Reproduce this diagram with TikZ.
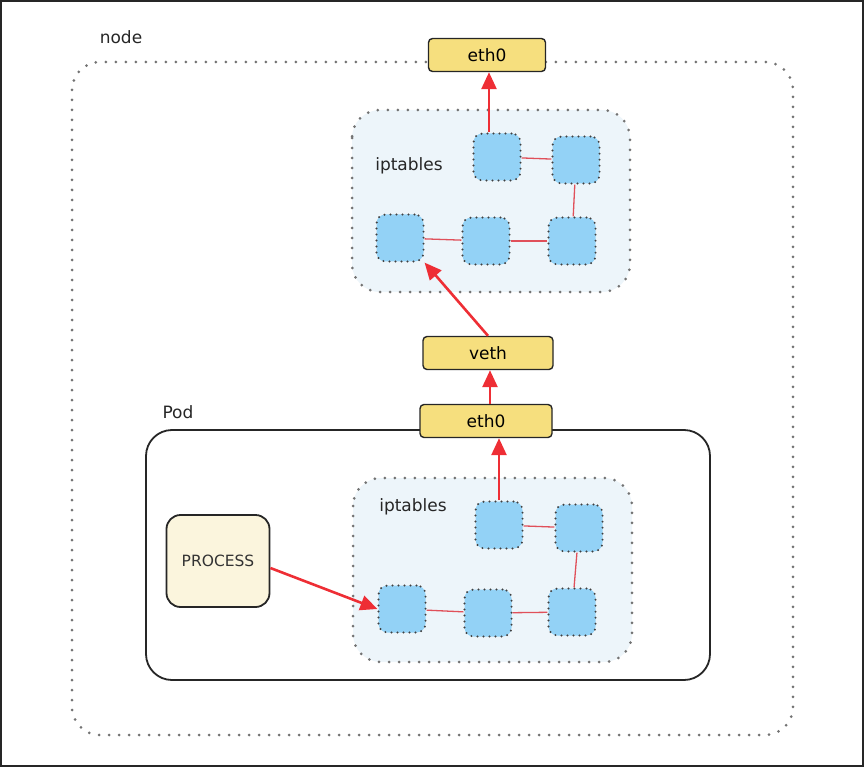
\documentclass[tikz,border=0pt]{standalone}
\usepackage{fontspec}
\setmainfont{DejaVu Sans}
\usetikzlibrary{arrows.meta}

\definecolor{ethyellow}{HTML}{F6DF7E}
\definecolor{procfill}{HTML}{FBF5DD}
\definecolor{groupfill}{HTML}{EDF5FA}
\definecolor{cellblue}{HTML}{93D2F6}
\definecolor{linkred}{HTML}{E0505A}
\definecolor{arrowred}{HTML}{EE2E35}

\tikzset{
  dotline/.style={line width=3pt, line cap=round, dash pattern=on 0pt off 10pt, draw=black!55},
  portbox/.style={draw=black!85, line width=1.4pt, fill=ethyellow, rounded corners=4pt,
    minimum width=117pt, minimum height=33pt, font=\fontsize{17}{19}\selectfont},
  cell/.style={fill=cellblue, draw=black!75, line width=2.2pt, line cap=round,
    dash pattern=on 0pt off 6pt, rounded corners=9pt, minimum size=47pt},
  link/.style={linkred, line width=1.3pt},
  flow/.style={arrowred, line width=2.6pt, -{Triangle[length=17pt,width=15pt]}},
  lbl/.style={font=\fontsize{17}{19}\selectfont, text=black!85}
}

\begin{document}
\begin{tikzpicture}[x=1pt, y=-1pt]
  \useasboundingbox (0,0) rectangle (864,767);
  % frame
  \draw[black!85, line width=2pt] (1,1) rectangle (863,766);

  % node area
  \draw[dotline, rounded corners=28pt] (72,62) rectangle (793,735);
  \node[lbl] (nodelabel) at (121,37) {node};

  % top iptables group
  \draw[dotline, fill=groupfill, rounded corners=28pt] (352,110) rectangle (630,292);
  \node[lbl] (iptop) at (409,166) {iptables};
  \node[cell] (t1) at (497,157) {};
  \node[cell] (t2) at (576,160) {};
  \node[cell] (t3) at (400,238) {};
  \node[cell] (t4) at (486,241) {};
  \node[cell] (t5) at (572,241) {};

  % pod
  \draw[black!85, line width=1.8pt, rounded corners=26pt] (146,430) rectangle (710,680);
  \node[lbl] (podlabel) at (178,412) {Pod};

  % bottom iptables group
  \draw[dotline, fill=groupfill, rounded corners=28pt] (353,478) rectangle (632,662);
  \node[lbl] (ipbot) at (413,507) {iptables};
  \node[cell] (b1) at (499,525) {};
  \node[cell] (b2) at (579,528) {};
  \node[cell] (b3) at (402,609) {};
  \node[cell] (b4) at (488,613) {};
  \node[cell] (b5) at (572,612) {};

  % ports
  \node[portbox] (ethtop) at (487,55) {eth0};
  \node[portbox, minimum width=130pt] (veth) at (488,353) {veth};
  \node[portbox, minimum width=132pt] (ethpod) at (486,421) {eth0};

  % process
  \node[draw=black!85, line width=1.8pt, fill=procfill, rounded corners=14pt,
    minimum width=103pt, minimum height=92pt, font=\fontsize{15.5}{17}\selectfont,
    text=black!80, inner xsep=2pt] (proc) at (218,561) {PROCESS};

  % links inside the groups
  \draw[link] (t1) -- (t2);
  \draw[link] (t2) -- (t5);
  \draw[link] (t5) -- (t4);
  \draw[link] (t4) -- (t3);
  \draw[link] (b1) -- (b2);
  \draw[link] (b2) -- (b5);
  \draw[link] (b5) -- (b4);
  \draw[link] (b4) -- (b3);

  % arrows
  \draw[flow] (proc.east |- 0,568) -- (b3.west);
  \draw[flow] (b1.north) -- (ethpod.south -| b1.north);
  \draw[flow] (ethpod.north -| 490,0) -- (veth.south -| 490,0);
  \draw[flow] (veth.north) -- (t3.south east);
  \draw[flow] (t1.north -| 489,0) -- (ethtop.south -| 489,0);
\end{tikzpicture}
\end{document}
